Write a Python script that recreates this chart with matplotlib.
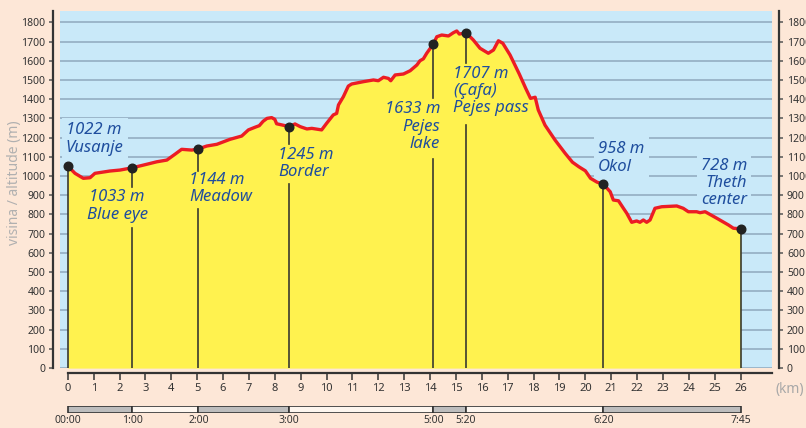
import numpy as np
import matplotlib.pyplot as plt

# elevation profile (km, m)
prof_km = [0, 0.28, 0.6, 0.86, 1.05, 1.63, 2.02, 2.5, 3.05, 3.44, 3.83, 4.15, 4.4, 4.79,
           5.02, 5.37, 5.76, 6.27, 6.72, 6.98, 7.24, 7.4, 7.55, 7.7, 7.88, 8.0, 8.07, 8.27,
           8.56, 8.78, 8.98, 9.24, 9.43, 9.81, 10.0, 10.26, 10.39, 10.46, 10.65, 10.84,
           10.97, 11.42, 11.81, 12.0, 12.2, 12.39, 12.48, 12.65, 12.97, 13.23, 13.49, 13.61,
           13.74, 13.87, 14.12, 14.26, 14.45, 14.71, 14.9, 15.03, 15.13, 15.39, 15.67, 15.93,
           16.25, 16.45, 16.64, 16.81, 17.09, 17.45, 17.7, 17.88, 18.06, 18.18, 18.44, 18.83,
           19.22, 19.5, 19.75, 20.0, 20.2, 20.45, 20.7, 20.96, 21.08, 21.28, 21.47, 21.6,
           21.79, 21.98, 22.11, 22.24, 22.37, 22.5, 22.69, 22.95, 23.53, 23.78, 23.98, 24.3,
           24.43, 24.63, 25.08, 25.53, 25.72, 26.0]
prof_elev = [1052, 1014, 988, 991, 1014, 1026, 1031, 1043, 1061, 1074, 1083, 1114, 1139, 1135,
             1140, 1156, 1165, 1191, 1208, 1240, 1254, 1262, 1285, 1300, 1304, 1295, 1272, 1266,
             1257, 1271, 1257, 1245, 1248, 1240, 1274, 1318, 1326, 1370, 1413, 1468,
             1479, 1491, 1500, 1496, 1514, 1508, 1496, 1526, 1531, 1548, 1578, 1600,
             1610, 1639, 1686, 1725, 1734, 1729, 1746, 1755, 1739, 1746, 1708, 1665,
             1639, 1656, 1704, 1691, 1630, 1530, 1455, 1404, 1410, 1344, 1265, 1187,
             1118, 1072, 1048, 1027, 988, 968, 957, 918, 875, 871, 832, 806,
             759, 766, 759, 771, 759, 771, 832, 840, 844, 832, 814, 814,
             809, 814, 780, 745, 728, 725]

# waypoints
wp_km = [0, 2.5, 5.03, 8.56, 14.12, 15.39, 20.7, 26.0]
wp_elev = [1052, 1043, 1140, 1257, 1686, 1746, 957, 725]
wp_labels = ['1022 m\nVusanje', '1033 m\nBlue eye', '1144 m\nMeadow', '1245 m\nBorder',
             '1633 m\nPejes\nlake', '1707 m\n(Çafa)\nPejes pass', '958 m\nOkol',
             '728 m\nTheth\ncenter']

# walking time bar
time_km = [0, 2.5, 5.05, 8.56, 14.12, 15.39, 20.7, 26.0]
time_labels = ['00:00', '1:00', '2:00', '3:00', '5:00', '5:20', '6:20', '7:45']

# colours
peach = '#fde7d7'
sky = '#c9e9f9'
yellow = '#fff24f'
red = '#ec1c24'
txt_blue = '#1f4e9e'
dark = '#333333'

plt.rcParams['font.family'] = ['Noto Sans', 'DejaVu Sans']

W, H = 806, 428
fig = plt.figure(figsize=(W / 100, H / 100), dpi=100, facecolor=peach)
x0, x1, ytop, ybot = 60, 771.7, 11, 368.1
ax = fig.add_axes([x0 / W, 1 - ybot / H, (x1 - x0) / W, (ybot - ytop) / H])
ax.set_facecolor(sky)
ax.set_xlim(-0.3, 27.2)
ax.set_ylim(0, 1859)

# grid
ax.set_yticks(np.arange(0, 1801, 100))
ax.set_xticks(np.arange(0, 27, 1))
ax.set_axisbelow(True)
ax.yaxis.grid(True, color='#8fa9be', lw=1.1)
ax.xaxis.grid(False)

# profile
ax.fill_between(prof_km, prof_elev, 0, color=yellow, lw=0, zorder=2)
ax.plot(prof_km, prof_elev, color=red, lw=2.4, zorder=4, solid_joinstyle='round')

# label placement (layout): x, y, ha, gap in the drop line
lab_pos = [(-0.07, 1193, 'left', None),
           (1.91, 844, 'center', (728, 945)),
           (4.69, 935, 'left', (827, 1028)),
           (8.13, 1065, 'left', (957, 1168)),
           (14.39, 1257, 'right', (1090, 1405)),
           (14.89, 1443, 'left', (1267, 1590)),
           (20.49, 1094, 'left', None),
           (26.25, 963, 'right', None)]

for k, e, lab, (tx, ty, ha, gap) in zip(wp_km, wp_elev, wp_labels, lab_pos):
    if gap is None:
        ax.plot([k, k], [0, e], color='#3a3a30', lw=1.2, zorder=3)
    else:
        ax.plot([k, k], [0, gap[0]], color='#3a3a30', lw=1.2, zorder=3)
        ax.plot([k, k], [gap[1], e], color='#3a3a30', lw=1.2, zorder=3)
    over_sky = gap is None
    t = ax.text(tx, ty, lab, ha=ha, va='center', multialignment=ha, color=txt_blue,
                fontsize=12, style='italic', linespacing=1.1,
                zorder=1.5 if over_sky else 5)
    if over_sky:
        t.set_bbox(dict(boxstyle='square,pad=0.25', fc=sky, ec='none'))

ax.plot(wp_km, wp_elev, 'o', color='#222222', ms=6.2, zorder=6)

# spines and ticks
ax.spines['top'].set_visible(False)
for s in ['left', 'right', 'bottom']:
    ax.spines[s].set_color(dark)
    ax.spines[s].set_linewidth(1.6)
ax.spines['left'].set_position(('outward', 4.8))
ax.spines['right'].set_position(('outward', 5.3))
ax.spines['bottom'].set_position(('outward', 3.7))
ax.spines['bottom'].set_bounds(0, 27.2)
ax.tick_params(axis='y', which='both', left=True, right=True, labelleft=True, labelright=True,
               length=3.2, width=1.1, color='#555555', labelsize=7.5, labelcolor=dark, pad=2.5)
ax.tick_params(axis='x', length=5, width=1.1, color=dark, labelsize=8, labelcolor=dark, pad=2)

fig.text(15 / W, 1 - 183 / H, 'visina / altitude (m)', rotation=90, ha='center', va='center',
         color='#b0b0b0', fontsize=10)
fig.text(776 / W, 1 - 390 / H, '(km)', ha='left', va='center', color='#a8a8a8', fontsize=10)

# time bar
axt = fig.add_axes([x0 / W, 1 - 413.3 / H, (x1 - x0) / W, 7.6 / H])
axt.set_xlim(-0.3, 27.2)
axt.set_ylim(0, 1)
axt.axis('off')
for i in range(len(time_km) - 1):
    axt.barh(0.5, time_km[i + 1] - time_km[i], left=time_km[i], height=1,
             color='#bdbdbd' if i % 2 == 0 else '#fdf6ef', edgecolor=dark, lw=1.2)
for k, lab in zip(time_km, time_labels):
    axt.text(k, -1.0, lab, ha='center', va='center', fontsize=7.5, color=dark, clip_on=False)

fig.savefig('out.png', dpi=100, facecolor=peach)
